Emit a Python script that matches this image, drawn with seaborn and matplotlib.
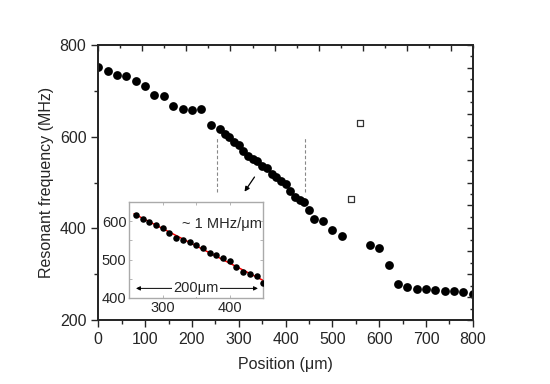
import matplotlib.pyplot as plt
import matplotlib.ticker as mticker
import numpy as np
import pandas as pd
import seaborn as sns

# filled points, coarse scan (20 um steps)
pos_start = [0, 20, 40, 60, 80, 100, 120, 140, 160, 180, 200, 220, 240]
freq_start = [752, 743, 734, 733, 722, 710, 691, 689, 667, 660, 659, 660, 625]

# fine scan shown in the inset (10 um steps)
pos_fine = [260, 270, 280, 290, 300, 310, 320, 330, 340, 350,
            360, 370, 380, 390, 400, 410, 420, 430, 440, 450]
freq_fine = [617, 606, 599, 589, 581, 569, 557, 552, 547, 537,
             531, 518, 511, 504, 496, 481, 468, 462, 457, 439]

pos_end = [460, 480, 500, 520, 580, 600, 620, 640, 660, 680, 700, 720, 740, 760, 780, 800]
freq_end = [420, 415, 396, 383, 364, 357, 320, 278, 271, 268, 267, 266, 264, 264, 260, 256]

# open squares
pos_open = [540, 560]
freq_open = [465, 630]

sns.set_style("ticks")
plt.rcParams["font.family"] = ["Liberation Sans", "DejaVu Sans"]
plt.rcParams["axes.linewidth"] = 1.1

main = pd.DataFrame({
    "pos": pos_start + pos_fine + pos_end,
    "freq": freq_start + freq_fine + freq_end,
})
fine = pd.DataFrame({"pos": pos_fine, "freq": freq_fine})

fig = plt.figure(figsize=(5.5, 3.84), dpi=100)
ax = fig.add_axes([0.1787, 0.1667, 0.681, 0.716])

sns.scatterplot(data=main, x="pos", y="freq", ax=ax, color="black",
                s=40, edgecolor="black", linewidth=0, zorder=3)
ax.scatter(pos_open, freq_open, marker="s", s=18, facecolor="white",
           edgecolor="#333333", linewidth=0.9, zorder=3)

# dashed markers for the fine-scan window
for xv in [254, 442]:
    ax.plot([xv, xv], [480, 600], ls=(0, (3, 2)), color="#888888", lw=0.8)
ax.annotate("", xy=(309, 475), xytext=(337, 517),
            arrowprops=dict(arrowstyle="-|>", color="black", lw=0.9,
                            mutation_scale=7))

ax.set_xlim(0, 800)
ax.set_ylim(200, 800)
ax.xaxis.set_major_locator(mticker.MultipleLocator(100))
ax.xaxis.set_minor_locator(mticker.MultipleLocator(50))
ax.yaxis.set_major_locator(mticker.MultipleLocator(200))
ax.yaxis.set_minor_locator(mticker.MultipleLocator(100))
ax.tick_params(which="major", direction="out", length=5, width=1, labelsize=11.5)
ax.tick_params(which="minor", direction="out", length=3, width=1)
ax.set_xlabel("Position (μm)", fontsize=11.5, labelpad=7)
ax.set_ylabel("Resonant frequency (MHz)", fontsize=11.5, labelpad=4)

# top and right frame ticks
top = ax.twiny()
top.set_xlim(0, 17)
top.xaxis.set_major_locator(mticker.MultipleLocator(2))
top.xaxis.set_minor_locator(mticker.MultipleLocator(1))
top.tick_params(which="major", direction="in", length=4, width=1, labeltop=False)
top.tick_params(which="minor", direction="in", length=2.5, width=1)
right = ax.twinx()
right.set_ylim(200, 800)
right.yaxis.set_major_locator(mticker.MultipleLocator(50))
right.yaxis.set_minor_locator(mticker.MultipleLocator(25))
right.tick_params(which="major", direction="in", length=4, width=1, labelright=False)
right.tick_params(which="minor", direction="in", length=2.5, width=1)

# inset
ins = fig.add_axes([0.2351, 0.224, 0.2436, 0.251])
sns.scatterplot(data=fine, x="pos", y="freq", ax=ins, color="black",
                s=22, linewidth=0, zorder=3)
k, b = np.polyfit(pos_fine, freq_fine, 1)
xs = np.array([257, 452])
ins.plot(xs, k * xs + b, color="red", lw=1.1, zorder=2)
ins.set_xlim(250, 450)
ins.set_ylim(400, 651)
ins.xaxis.set_major_locator(mticker.MultipleLocator(100))
ins.xaxis.set_minor_locator(mticker.MultipleLocator(50))
ins.yaxis.set_major_locator(mticker.MultipleLocator(100))
ins.yaxis.set_minor_locator(mticker.MultipleLocator(50))
ins.tick_params(which="both", direction="in", length=2, width=0.6,
                color="#aaaaaa", labelsize=10.5, pad=2, top=True, right=True)
for sp in ins.spines.values():
    sp.set_color("#aaaaaa")
    sp.set_linewidth(1)
ins.set_xlabel("")
ins.set_ylabel("")
ins.text(328, 592, "~ 1 MHz/μm", fontsize=10.5, ha="left", va="center")
ins.annotate("", xy=(260, 425), xytext=(442, 425),
             arrowprops=dict(arrowstyle="<|-|>", color="black", lw=0.7,
                             mutation_scale=6, shrinkA=0, shrinkB=0))
ins.text(350, 425, "200μm", fontsize=10.5, ha="center", va="center",
         bbox=dict(facecolor="white", edgecolor="none", pad=1))

fig.savefig("out.png", dpi=100)
